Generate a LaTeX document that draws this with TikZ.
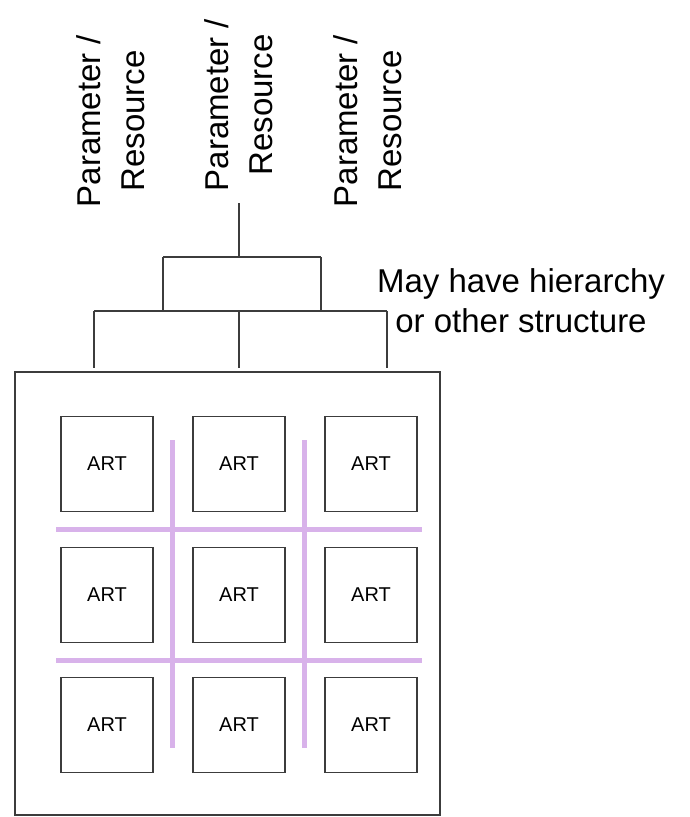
\documentclass[tikz,border=0pt]{standalone}
\usepackage{fontspec}
\setmainfont{Liberation Sans}
\definecolor{gridline}{RGB}{216,178,234}
\definecolor{ink}{RGB}{60,60,60}
\begin{document}
\begin{tikzpicture}[x=1pt,y=-1pt,
  label/.style={align=center,font=\fontsize{33}{44}\selectfont,inner sep=0pt},
  vlabel/.style={label,rotate=90},
  artbox/.style={draw=ink,line width=1.3pt,minimum width=92pt,minimum height=95pt,
    inner sep=0pt,font=\fontsize{20}{24}\selectfont},
  tree/.style={draw=ink,line width=1.4pt},
  divider/.style={draw=gridline,line width=5pt}]
\useasboundingbox (0,0) rectangle (689,817);

% rotated parameter labels
\node[vlabel] (p1) at (111,121) {Parameter /\\Resource};
\node[vlabel] (p2) at (239,105) {Parameter /\\Resource};
\node[vlabel] (p3) at (368,121) {Parameter /\\Resource};

\node[label,font=\fontsize{33}{40}\selectfont] (note) at (521,301)
  {May have hierarchy\\or other structure};

% outer panel
\node[draw=ink,line width=1.6pt,minimum width=425pt,minimum height=443pt,inner sep=0pt]
  (panel) at (227.5,593.5) {};

% grid dividers
\coordinate (v1a) at (172,440); \coordinate (v1b) at (172,748);
\coordinate (v2a) at (304,440); \coordinate (v2b) at (304,748);
\coordinate (h1a) at (56,529);  \coordinate (h1b) at (422,529);
\coordinate (h2a) at (56,660);  \coordinate (h2b) at (422,660);
\draw[divider] (v1a) -- (v1b);
\draw[divider] (v2a) -- (v2b);
\draw[divider] (h1a) -- (h1b);
\draw[divider] (h2a) -- (h2b);

% ART cells
\foreach \c/\x in {1/107,2/239,3/371}{
  \foreach \r/\y in {1/464,2/595,3/725}{
    \node[artbox,fill=white] (a\r\c) at (\x,\y) {ART};
  }
}

% hierarchy tree
\coordinate (t0) at (239,203);
\coordinate (t1) at (239,257);
\coordinate (u1) at (163,257);
\coordinate (u2) at (321,257);
\coordinate (l1) at (163,311);
\coordinate (l2) at (321,311);
\coordinate (m1) at (94,311);
\coordinate (m2) at (239,311);
\coordinate (m3) at (387,311);
\coordinate (d1) at (94,368);
\coordinate (d2) at (239,368);
\coordinate (d3) at (387,368);
\draw[tree] (t0) -- (t1);
\draw[tree] (u1) -- (u2);
\draw[tree] (u1) -- (l1);
\draw[tree] (u2) -- (l2);
\draw[tree] (m1) -- (m3);
\draw[tree] (m1) -- (d1);
\draw[tree] (m2) -- (d2);
\draw[tree] (m3) -- (d3);
\end{tikzpicture}
\end{document}
